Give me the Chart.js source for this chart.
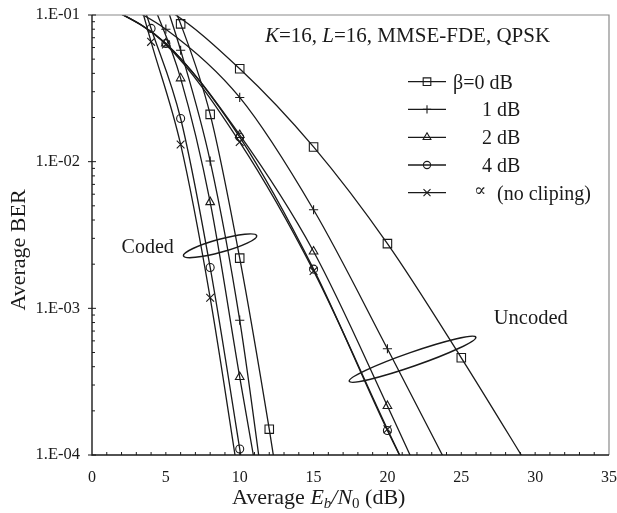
<!DOCTYPE html>
<html><head><meta charset="utf-8">
<script src="https://cdn.jsdelivr.net/npm/chart.js@4.4.1/dist/chart.umd.min.js"></script>
<style>html,body{margin:0;padding:0;background:#fff;}</style>
</head><body>
<canvas id="c" width="617" height="513"></canvas>
<script>
// ---- data (Eb/N0 in dB, average BER) ----
const codedB0Snr = [5, 6, 8, 10, 12, 13];
const codedB0Ber = [0.15, 0.087, 0.021, 0.0022, 0.00015, 0.000034];
const codedB1Snr = [5, 6, 8, 10, 12];
const codedB1Ber = [0.12, 0.0575, 0.0101, 0.00083, 0.000029];
const codedB2Snr = [4, 6, 8, 10, 12];
const codedB2Ber = [0.13, 0.037, 0.0053, 0.00034, 0.000024];
const codedB4Snr = [3, 4, 6, 8, 10, 11];
const codedB4Ber = [0.16, 0.081, 0.0197, 0.0019, 0.00011, 0.000025];
const codedInfSnr = [3, 4, 6, 8, 10];
const codedInfBer = [0.15, 0.0656, 0.0131, 0.00118, 0.000062];

const uncB0Snr = [0, 5, 10, 15, 20, 25, 30];
const uncB0Ber = [0.16, 0.11, 0.043, 0.0126, 0.00276, 0.00046, 0.00007];
const uncB1Snr = [0, 5, 10, 15, 20, 25];
const uncB1Ber = [0.15, 0.080, 0.0274, 0.0047, 0.00053, 0.000056];
const uncB2Snr = [0, 5, 10, 15, 20, 25];
const uncB2Ber = [0.13, 0.064, 0.0152, 0.00244, 0.000216, 0.000017];
const uncB4Snr = [0, 5, 10, 15, 20, 25];
const uncB4Ber = [0.13, 0.064, 0.0147, 0.00185, 0.000147, 0.000015];
const uncInfSnr = [0, 5, 10, 15, 20, 25];
const uncInfBer = [0.13, 0.063, 0.0136, 0.0018, 0.00015, 0.000013];

const legendLabels = ['β=0 dB', '1 dB', '2 dB', '4 dB', '∝ (no cliping)'];
const yTickValues = [0.0001, 0.001, 0.01, 0.1];
const yTickLabels = ['1.E-04', '1.E-03', '1.E-02', '1.E-01'];
const xTickValues = [0, 5, 10, 15, 20, 25, 30, 35];
const xTickLabels = ['0', '5', '10', '15', '20', '25', '30', '35'];
const titleParts = [['K', true], ['=16, ', false], ['L', true], ['=16, MMSE-FDE, QPSK', false]];
const yAxisTitle = 'Average BER';
const codedLabel = 'Coded';
const uncodedLabel = 'Uncoded';

// ---- styles ----
const SERIF = '"Liberation Serif", "DejaVu Serif", serif';
const INK = '#1a1a1a';
const markerStyles = ['rect', 'cross', 'triangle', 'circle', 'crossRot'];
const markerRadii = [6, 4.6, 5, 4, 5.5];

function pts(xs, ys) { return xs.map((x, i) => ({x: x, y: ys[i]})); }
const seriesData = [
  [codedB0Snr, codedB0Ber, 0], [codedB1Snr, codedB1Ber, 1], [codedB2Snr, codedB2Ber, 2],
  [codedB4Snr, codedB4Ber, 3], [codedInfSnr, codedInfBer, 4],
  [uncB0Snr, uncB0Ber, 0], [uncB1Snr, uncB1Ber, 1], [uncB2Snr, uncB2Ber, 2],
  [uncB4Snr, uncB4Ber, 3], [uncInfSnr, uncInfBer, 4]
];
const datasets = seriesData.map(([xs, ys, k], i) => ({
  label: (i < 5 ? 'Coded ' : 'Uncoded ') + legendLabels[k],
  data: pts(xs, ys),
  borderColor: INK,
  borderWidth: 1.3,
  pointStyle: markerStyles[k],
  pointRadius: markerRadii[k],
  pointBorderWidth: 1.1,
  pointBorderColor: INK,
  pointBackgroundColor: 'rgba(0,0,0,0)',
  cubicInterpolationMode: 'monotone',
  fill: false
}));

function drawMarker(ctx, style, r, x, y) {
  ctx.save();
  ctx.strokeStyle = INK; ctx.fillStyle = 'rgba(0,0,0,0)'; ctx.lineWidth = 1.1;
  if (Chart.helpers && Chart.helpers.drawPoint) {
    Chart.helpers.drawPoint(ctx, {pointStyle: style, radius: r, rotation: 0, borderWidth: 1.1}, x, y);
  }
  ctx.restore();
}

const decor = {
  id: 'decor',
  afterDatasetsDraw(chart) {
    const ctx = chart.ctx, a = chart.chartArea;
    const xs = chart.scales.x, ys = chart.scales.y;
    ctx.save();
    // frame
    ctx.strokeStyle = '#8a8a8a'; ctx.lineWidth = 1.2;
    ctx.beginPath(); ctx.moveTo(a.left, a.top); ctx.lineTo(a.right, a.top); ctx.lineTo(a.right, a.bottom); ctx.stroke();
    ctx.strokeStyle = INK; ctx.lineWidth = 1.4;
    ctx.beginPath(); ctx.moveTo(a.left, a.top); ctx.lineTo(a.left, a.bottom); ctx.lineTo(a.right, a.bottom); ctx.stroke();
    // y ticks (inside)
    ctx.lineWidth = 1;
    for (let d = -4; d <= -1; d++) {
      const py = ys.getPixelForValue(Math.pow(10, d));
      ctx.beginPath(); ctx.moveTo(a.left - 4, py); ctx.lineTo(a.left + 4, py); ctx.stroke();
      if (d < -1) {
        for (let k = 2; k <= 9; k++) {
          const p = ys.getPixelForValue(k * Math.pow(10, d));
          ctx.beginPath(); ctx.moveTo(a.left, p); ctx.lineTo(a.left + 3, p); ctx.stroke();
        }
      }
    }
    // x ticks every 1 dB (inside)
    for (let v = 1; v < 35; v++) {
      const px = xs.getPixelForValue(v);
      ctx.beginPath(); ctx.moveTo(px, a.bottom); ctx.lineTo(px, a.bottom - 3); ctx.stroke();
    }
    ctx.fillStyle = INK;
    // y axis title
    ctx.save();
    ctx.translate(25, 250);
    ctx.rotate(-Math.PI / 2);
    ctx.font = '22px ' + SERIF; ctx.textAlign = 'center'; ctx.textBaseline = 'alphabetic';
    ctx.fillText(yAxisTitle, 0, 0);
    ctx.restore();
    // x axis title: Average E_b/N_0 (dB)
    ctx.textBaseline = 'alphabetic'; ctx.textAlign = 'left';
    let cx = 232; const by = 504;
    const piece = (t, font, dy) => { ctx.font = font; ctx.fillText(t, cx, by + dy); cx += ctx.measureText(t).width; };
    piece('Average ', '22px ' + SERIF, 0);
    piece('E', 'italic 22px ' + SERIF, 0);
    piece('b', 'italic 15px ' + SERIF, 4);
    piece('/', 'italic 22px ' + SERIF, 0);
    piece('N', 'italic 22px ' + SERIF, 0);
    piece('0', '15px ' + SERIF, 4);
    piece(' (dB)', '22px ' + SERIF, 0);
    // chart title inside plot
    cx = 265;
    titleParts.forEach(([t, it]) => {
      ctx.font = (it ? 'italic ' : '') + '21px ' + SERIF;
      ctx.fillText(t, cx, 42); cx += ctx.measureText(t).width;
    });
    // legend
    const rowsY = [81.7, 109.3, 137.3, 165, 192.7];
    rowsY.forEach((ry, i) => {
      ctx.strokeStyle = INK; ctx.lineWidth = 1.3;
      ctx.beginPath(); ctx.moveTo(408, ry); ctx.lineTo(446, ry); ctx.stroke();
      drawMarker(ctx, markerStyles[i], markerRadii[i] * 0.9, 427, ry);
      ctx.fillStyle = INK; ctx.font = '20px ' + SERIF;
      const lab = legendLabels[i];
      if (i === 0) ctx.fillText(lab, 453, ry + 7);
      else if (i < 4) ctx.fillText(lab, 482, ry + 7);
      else {
        const sp = lab.indexOf(' ');
        ctx.font = '18px ' + SERIF; ctx.fillText(lab.slice(0, sp), 474, ry + 3);
        ctx.font = '20px ' + SERIF; ctx.fillText(lab.slice(sp + 1), 497, ry + 7);
      }
    });
    // Coded / Uncoded annotations
    ctx.font = '20px ' + SERIF;
    ctx.fillText(codedLabel, xs.getPixelForValue(2.0), ys.getPixelForValue(0.0024));
    ctx.font = '20.5px ' + SERIF;
    ctx.fillText(uncodedLabel, xs.getPixelForValue(27.2), ys.getPixelForValue(0.00078));
    ctx.strokeStyle = INK; ctx.lineWidth = 1.5;
    ctx.beginPath();
    ctx.ellipse(xs.getPixelForValue(8.67), ys.getPixelForValue(0.00267), 38, 6.5, -15.4 * Math.PI / 180, 0, 2 * Math.PI);
    ctx.stroke();
    ctx.beginPath();
    ctx.ellipse(xs.getPixelForValue(21.7), ys.getPixelForValue(0.00045), 67, 7, -19.2 * Math.PI / 180, 0, 2 * Math.PI);
    ctx.stroke();
    ctx.restore();
  }
};

new Chart(document.getElementById('c'), {
  type: 'line',
  data: {datasets: datasets},
  options: {
    responsive: false,
    animation: false,
    devicePixelRatio: 1,
    layout: {padding: {left: 0, right: 8, top: 15, bottom: 0}},
    plugins: {legend: {display: false}, tooltip: {enabled: false}},
    scales: {
      x: {
        type: 'linear', min: 0, max: 35,
        afterBuildTicks(s) { s.ticks = xTickValues.map(v => ({value: v})); },
        ticks: {
          autoSkip: false, maxRotation: 0, padding: 13, color: INK,
          font: {family: SERIF, size: 16},
          callback: (v, i) => xTickLabels[i]
        },
        grid: {display: false, drawTicks: false},
        border: {display: false},
        afterFit(s) { s.height = 58; s.paddingLeft = 0; s.paddingRight = 0; }
      },
      y: {
        type: 'logarithmic', min: 0.0001, max: 0.1,
        afterBuildTicks(s) { s.ticks = yTickValues.map(v => ({value: v})); },
        ticks: {
          autoSkip: false, padding: 12, color: INK,
          font: {family: SERIF, size: 16.5},
          callback: (v, i) => yTickLabels[i]
        },
        grid: {display: false, drawTicks: false},
        border: {display: false},
        afterFit(s) { s.width = 92; s.paddingTop = 0; s.paddingBottom = 0; }
      }
    }
  },
  plugins: [decor]
});
</script>
</body></html>
